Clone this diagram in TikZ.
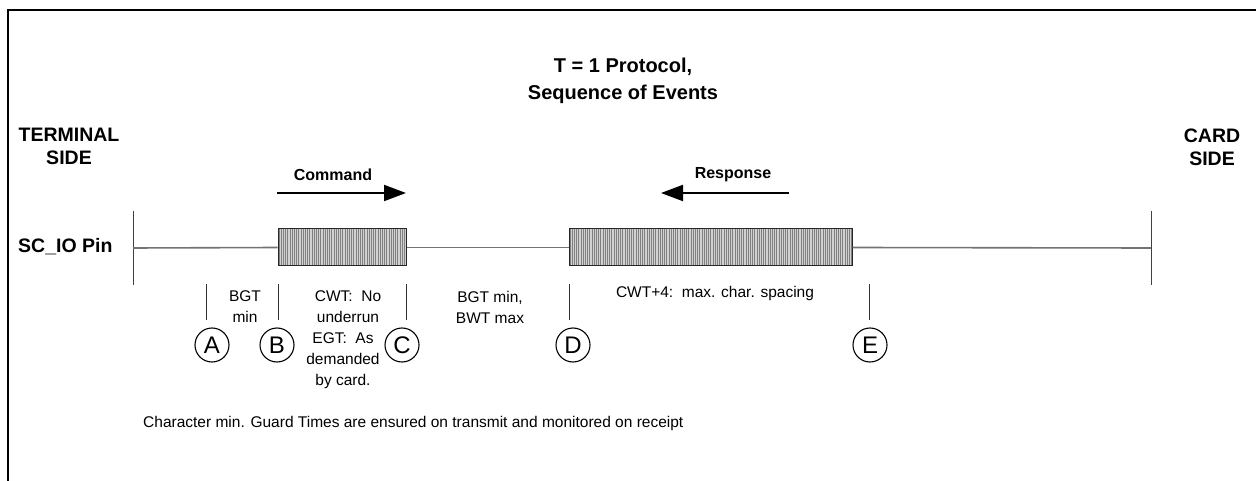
\documentclass[tikz,border=0pt]{standalone}
\usepackage{fontspec}
\setmainfont{Liberation Sans}
\usetikzlibrary{arrows.meta}
\begin{document}
\begin{tikzpicture}[x=1pt,y=-1pt,
  frame/.style={line width=2pt,black},
  wire/.style={line width=1.6pt,black!55},
  bar/.style={line width=1pt,black!75},
  tick/.style={line width=1pt,black!80},
  databox/.style={draw=black!85,line width=1pt,fill=black!18,inner sep=0,
    path picture={\foreach \i in {1,3.2,...,300}
      \draw[black!50,line width=0.8pt] ([xshift=\i]path picture bounding box.south west) -- ([xshift=\i]path picture bounding box.north west);}},
  bigarrow/.style={line width=2pt,-{Triangle[length=22pt,width=16pt]}},
  evt/.style={circle,draw,line width=1.1pt,minimum size=34pt,inner sep=0,font=\fontsize{24}{24}\selectfont},
  lbl/.style={font=\fontsize{15.5}{21}\selectfont,align=center,inner sep=0},
  blbl/.style={font=\bfseries\fontsize{16}{21}\selectfont,align=center,inner sep=0},
  side/.style={font=\bfseries\fontsize{19.5}{23}\selectfont,align=center,inner sep=0},
  ttl/.style={font=\bfseries\fontsize{20}{27}\selectfont,align=center,inner sep=0}]
\useasboundingbox (0,0) rectangle (1256,481);
% frame
\draw[frame] (7.5,481) -- (7.5,10) -- (1256,10);
% title
\node[ttl] (title) at (623,81) {T = 1 Protocol,\\Sequence of Events};
\node[side] (term) at (69,146) {TERMINAL\\SIDE};
\node[side] (card) at (1212,147) {CARD\\SIDE};
\node[side,anchor=west] (pin) at (18,247) {SC\_IO Pin};
% bars
\coordinate (lbar) at (133,248);
\coordinate (lbarT) at (133,211);
\coordinate (lbarB) at (133,285);
\coordinate (rbar) at (1151,248);
\coordinate (rbarT) at (1151,211);
\coordinate (rbarB) at (1151,285);
\draw[bar] (lbarT) -- (lbarB);
\draw[bar] (rbarT) -- (rbarB);
% boxes
\node[databox,minimum width=128pt,minimum height=37pt] (cmd) at (342,247.5) {};
\node[databox,minimum width=283pt,minimum height=37pt] (rsp) at (710.5,247.5) {};
\draw[wire] (lbar) -- (cmd.west);
\draw[wire] (cmd.east) -- (rsp.west);
\draw[wire] (rsp.east) -- (rbar);
% arrows
\node[blbl] (cmdl) at (333,175) {Command};
\node[blbl] (rspl) at (733,175) {Response};
\coordinate (ca1) at (277,193);
\coordinate (ca2) at (406,193);
\coordinate (ra1) at (789,193);
\coordinate (ra2) at (661,193);
\draw[bigarrow] (ca1) -- (ca2);
\draw[bigarrow] (ra1) -- (ra2);
% ticks
\foreach \n/\x in {a/206,b/278,c/406,d/569.5,e/869.5}{
  \coordinate (t\n1) at (\x,284);
  \coordinate (t\n2) at (\x,320);
  \draw[tick] (t\n1) -- (t\n2);
}
% events
\node[evt] (A) at (212,345) {A};
\node[evt] (B) at (277,345) {B};
\node[evt] (C) at (402,345) {C};
\node[evt] (D) at (573,345) {D};
\node[evt] (E) at (870,345) {E};
% labels
\node[lbl] (bgt) at (245,307) {BGT\\min};
\node[lbl] (cwt) at (348,307) {CWT:\ \ No\\underrun};
\node[lbl] (egt) at (343,361) {EGT:\ \ As\\demanded\\by card.};
\node[lbl] (bwt) at (490,307) {BGT min,\\BWT max};
\node[lbl] (cwt4) at (715,293) {CWT+4:\ \ max. char. spacing};
\node[lbl,anchor=west] (foot) at (143,423) {Character min. Guard Times are ensured on transmit and monitored on receipt};
\end{tikzpicture}
\end{document}
